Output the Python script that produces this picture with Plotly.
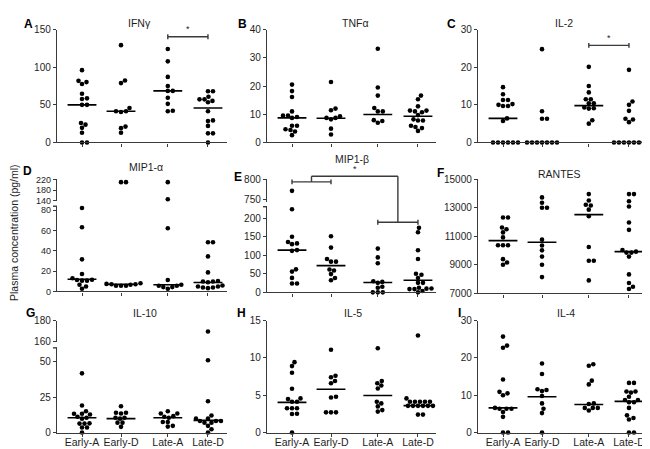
import plotly.graph_objects as go

# ---------------- data ----------------
CATEGORIES = ["Early-A", "Early-D", "Late-A", "Late-D"]

IFNG = [
    [96.1, 81.9, 80.2, 77.6, 64.7, 58.6, 57.8, 50, 50, 25.9, 23.7, 19.4, 12.9, 0, 0],
    [129.3, 82.3, 78.9, 45.7, 41.4, 41.4, 40.5, 21.1, 19, 12.9],
    [124.1, 107.8, 87.1, 75, 68.5, 68.5, 59.5, 51.3, 42.2, 41.4],
    [68.1, 68.1, 60.8, 57.3, 57.3, 55.2, 53.4, 41.4, 29.3, 28.4, 22, 12.1, 12.1, 0],
]
IFNG_MED = [50, 41.4, 68.5, 45.7]

TNFA = [
    [20.5, 18.2, 16.1, 11.0, 9.5, 9.5, 9.0, 8.7, 5.9, 5.9, 4.7, 4.4, 3.9, 2.6],
    [21.4, 12.0, 11.4, 9.3, 8.7, 8.7, 8.2, 4.9, 2.8],
    [33.2, 19.5, 16.6, 12.2, 11.0, 11.0, 7.9, 7.6, 7.0],
    [16.6, 15.3, 12.8, 11.3, 11.3, 11.0, 10.7, 9.7, 8.2, 7.8, 7.8, 5.9, 5.5, 5.1, 4.1],
]
TNFA_MED = [8.7, 8.6, 9.9, 9.3]

IL2 = [
    [14.7, 12.8, 11.3, 11.3, 10.2, 10.0, 9.7, 9.7, 6.4, 5.7, 0, 0, 0, 0, 0, 0],
    [24.8, 8.3, 6.3, 6.3, 0, 0, 0, 0, 0, 0, 0],
    [20.1, 15.0, 13.3, 11.5, 11.5, 10.4, 10.4, 9.3, 9.1, 9.0, 5.9, 5.0],
    [19.3, 10.9, 10.0, 8.4, 6.3, 6.1, 5.4, 0, 0, 0, 0, 0, 0, 0],
]
IL2_MED = [6.4, 0, 9.8, 0]

MIP1A = [
    [82.3, 63.2, 31.6, 17.1, 12.9, 11.5, 11.3, 10.6, 10.6, 6.5, 4.8, 2.6],
    [210, 210, 8.0, 7.4, 7.1, 7.0, 6.5, 5.5, 5.5, 5.5],
    [210, 146, 62.3, 11.3, 6.5, 5.5, 5.5, 4.2, 4.2, 2.6],
    [48.4, 48.4, 34.5, 18.7, 10.3, 9.7, 9.7, 9.0, 5.8, 4.8, 4.8, 3.9, 3.9, 3.2],
]
MIP1A_MED = [11.9, 7.1, 6.5, 8.7]

MIP1B = [
    [772, 224, 150, 136, 132, 130, 114, 112, 62, 56, 39, 24, 24],
    [151.5, 120.7, 89.9, 82.8, 82.8, 61.7, 59, 49.3, 38.8, 32.6],
    [118, 94.3, 78.4, 30, 28.2, 25.6, 15, 12.3, 0, 0, 0],
    [174, 162, 113.7, 90, 50.2, 47.6, 38.8, 25.6, 25.6, 12.3, 10.6, 10, 8.8, 8.8, 3.5, 0],
]
MIP1B_MED = [114, 72, 26.4, 32.6]

RANTES = [
    [12330, 12330, 11620, 11500, 11280, 10930, 10380, 10380, 10380, 9400, 9170, 9010],
    [13740, 13360, 13010, 13010, 10770, 10360, 10020, 9580, 9010, 8140],
    [13970, 13520, 13220, 13170, 12880, 12420, 10250, 9290, 9290, 7910],
    [13970, 13970, 13470, 13100, 11980, 11460, 10040, 9930, 9860, 9860, 9580, 8330, 7730, 7460, 7300],
]
RANTES_MED = [10700, 10590, 12530, 9930]

IL10 = [
    [41.9, 19.1, 15.1, 13.3, 13.3, 12.8, 11.2, 10.5, 9.8, 6.5, 6.3, 6.3, 3.5, 3.5, 0],
    [18.6, 14.0, 14.0, 13.5, 10.5, 10.5, 9.8, 7.0, 7.0, 4.0],
    [15.1, 13.5, 13.5, 11.6, 11.2, 10.5, 7.4, 7.4, 4.7, 4.2],
    [169.8, 51.2, 22.1, 12.1, 9.8, 9.8, 8.1, 8.1, 8.1, 7.0, 7.0, 4.7, 2.3, 0],
]
IL10_MED = [10.5, 9.8, 10.5, 8.6]

IL5 = [
    [9.43, 8.9, 8.0, 5.87, 4.57, 4.48, 4.13, 4.13, 3.26, 3.26, 3.26, 2.52, 2.48, 0],
    [11.1, 7.6, 7.4, 6.9, 6.6, 4.8, 4.7, 2.7, 2.7, 2.7],
    [11.3, 6.9, 6.6, 6.3, 5.9, 4.13, 3.9, 3.5, 3.0, 2.8],
    [13.0, 4.57, 4.13, 4.13, 4.13, 4.13, 4.13, 3.57, 3.57, 3.57, 3.57, 3.57, 3.57, 2.4, 2.4],
]
IL5_MED = [4.04, 5.8, 4.96, 3.6]

IL4 = [
    [25.7, 23.3, 22.7, 14.2, 10.9, 10.5, 10.0, 6.6, 6.35, 6.35, 6.35, 5.5, 4.2, 0, 0],
    [18.5, 15.7, 11.6, 11.4, 11.1, 9.8, 7.8, 6.35, 5.2, 0],
    [18.3, 17.9, 13.9, 12.9, 7.8, 7.65, 6.6, 6.6, 6.6, 5.9],
    [13.3, 13.3, 11.0, 11.0, 10.7, 9.6, 8.7, 8.7, 8.1, 8.1, 6.6, 4.6, 3.9, 3.5, 0, 0],
]
IL4_MED = [6.6, 9.6, 7.5, 8.35]

Y_TITLE = "Plasma concentration (pg/ml)"

# ---------------- layout constants ----------------
FW, FH = 650, 449
GROUP_POS = [0.0, 1.0, 2.2, 3.23]
UNIT_PX = 39.0
FIRST_PX = 25.0
COLS = [(49, 219), (259, 428), (470, 640)]
AX = "#3a3a3a"
LW = 1.4
FONT = "Arial, 'Liberation Sans', sans-serif"
TXT = "#1e1e1e"
TICK_FS = 10
DOT = 4.6        # marker diameter (px)
SPACING = 4.6    # swarm spacing (px)
MED_HALF = 0.37

PANELS = [
    dict(letter="A", title="IFNγ", data=IFNG, med=IFNG_MED, col=0, bottom=False,
         segs=[dict(range=[0, 150], px=[132, 16], ticks=[0, 50, 100, 150])],
         title_xy=(131, 9), letter_xy=(20, 10),
         brackets=[dict(g=(2, 3), v=140.5, seg=0, star=True)]),
    dict(letter="B", title="TNFα", data=TNFA, med=TNFA_MED, col=1, bottom=False,
         segs=[dict(range=[0, 40], px=[132, 16], ticks=[0, 10, 20, 30, 40])],
         title_xy=(347, 9), letter_xy=(234, 10), brackets=[]),
    dict(letter="C", title="IL-2", data=IL2, med=IL2_MED, col=2, bottom=False,
         segs=[dict(range=[0, 30], px=[132, 16], ticks=[0, 10, 20, 30])],
         title_xy=(556, 9), letter_xy=(444, 10),
         brackets=[dict(g=(2, 3), v=25.8, seg=0, star=True)]),
    dict(letter="D", title="MIP1-α", data=MIP1A, med=MIP1A_MED, col=0, bottom=False,
         tick_fs=9,
         segs=[dict(range=[0, 84], px=[285, 197.5], ticks=[0, 20, 40, 60, 80]),
               dict(range=[140, 220], px=[192, 170], ticks=[140, 180, 220])],
         title_xy=(138, 157), letter_xy=(19, 161), brackets=[]),
    dict(letter="E", title="MIP1-β", data=MIP1B, med=MIP1B_MED, col=1, bottom=False,
         segs=[dict(range=[0, 231], px=[286, 198], ticks=[0, 50, 100, 150, 200]),
               dict(range=[745, 800], px=[193, 170], ticks=[750, 800])],
         title_xy=(344, 149), letter_xy=(230, 167),
         brackets=[dict(g=(0, 1), v=794, seg=1, star=False),
                   dict(g=(2, 3), v=189, seg=0, star=False)],
         connector=dict(top=808, seg=1)),
    dict(letter="F", title="RANTES", data=RANTES, med=RANTES_MED, col=2, bottom=False,
         segs=[dict(range=[7000, 15000], px=[287, 170],
                    ticks=[7000, 9000, 11000, 13000, 15000])],
         title_xy=(551, 164), letter_xy=(432, 163), brackets=[]),
    dict(letter="G", title="IL-10", data=IL10, med=IL10_MED, col=0, bottom=True,
         segs=[dict(range=[0, 60], px=[430, 343], ticks=[0, 25, 50]),
               dict(range=[160, 180], px=[337, 315], ticks=[160, 180])],
         title_xy=(137, 307), letter_xy=(22, 307), brackets=[]),
    dict(letter="H", title="IL-5", data=IL5, med=IL5_MED, col=1, bottom=True,
         segs=[dict(range=[0, 15], px=[430, 315], ticks=[0, 5, 10, 15])],
         title_xy=(345, 307), letter_xy=(233, 307), brackets=[]),
    dict(letter="I", title="IL-4", data=IL4, med=IL4_MED, col=2, bottom=True,
         segs=[dict(range=[0, 30], px=[430, 315], ticks=[0, 10, 20, 30])],
         title_xy=(558, 307), letter_xy=(451, 307), brackets=[]),
]


def seg_index(p, v):
    segs = p["segs"]
    for i, s in enumerate(segs):
        if s["range"][0] <= v <= s["range"][1]:
            return i
    return len(segs) - 1 if v > segs[0]["range"][1] else 0


def val_py(p, v, si):
    s = p["segs"][si]
    r0, r1 = s["range"]
    p0, p1 = s["px"]
    return p0 + (v - r0) / (r1 - r0) * (p1 - p0)


def grp_px(p, g):
    return COLS[p["col"]][0] + FIRST_PX + GROUP_POS[g] * UNIT_PX


def swarm(pys):
    """Greedy beeswarm offsets (px) so dots do not overlap."""
    order = sorted(range(len(pys)), key=lambda i: -pys[i])
    placed = []
    offs = [0.0] * len(pys)
    cands = [0.0]
    for k in range(1, 200):
        cands += [k * 0.5, -k * 0.5]
    for i in order:
        y = pys[i]
        for c in cands:
            if all((c - px) ** 2 + (y - py) ** 2 >= SPACING ** 2 for px, py in placed):
                break
        placed.append((c, y))
        offs[i] = c
    return offs


fig = go.Figure()
layout = dict(width=FW, height=FH, autosize=False,
              margin=dict(l=0, r=0, t=0, b=0),
              paper_bgcolor="white", plot_bgcolor="white",
              showlegend=False, font=dict(family=FONT, size=TICK_FS, color=TXT))
shapes = []
annotations = []

ax_i = 0
for p in PANELS:
    x0px, x1px = COLS[p["col"]]
    xr = [-FIRST_PX / UNIT_PX, (x1px - x0px - FIRST_PX) / UNIT_PX]
    yfs = p.get("tick_fs", TICK_FS)
    p["axes"] = []
    for si, seg in enumerate(p["segs"]):
        ax_i += 1
        n = "" if ax_i == 1 else str(ax_i)
        low = si == 0
        layout["xaxis" + n] = dict(
            domain=[x0px / FW, x1px / FW], range=xr, anchor="y" + n,
            showline=low, linecolor=AX, linewidth=LW,
            ticks="outside" if low else "", ticklen=3, tickwidth=LW, tickcolor=AX,
            tickvals=GROUP_POS if low else [], ticktext=CATEGORIES if low else [],
            showticklabels=low and p["bottom"], showgrid=False, zeroline=False,
            ticklabelstandoff=-3,
            tickfont=dict(family=FONT, size=10.5, color=TXT), fixedrange=True)
        layout["yaxis" + n] = dict(
            domain=[1 - seg["px"][0] / FH, 1 - seg["px"][1] / FH], range=seg["range"],
            anchor="x" + n, showline=True, linecolor=AX, linewidth=LW,
            ticks="outside", ticklen=3, tickwidth=LW, tickcolor=AX,
            tickvals=seg["ticks"], ticktext=[str(t) for t in seg["ticks"]],
            showgrid=False, zeroline=False,
            tickfont=dict(family=FONT, size=yfs, color=TXT), fixedrange=True)
        p["axes"].append(("x" + n, "y" + n))

    # break cap at the top of the lower segment
    if len(p["segs"]) > 1:
        ytop = 1 - p["segs"][0]["px"][1] / FH
        shapes.append(dict(type="line", xref="paper", yref="paper",
                           x0=(x0px - 4) / FW, x1=x0px / FW, y0=ytop, y1=ytop,
                           line=dict(color=AX, width=LW)))

    # points
    xs = [[] for _ in p["segs"]]
    ys = [[] for _ in p["segs"]]
    for g, vals in enumerate(p["data"]):
        sis = [seg_index(p, v) for v in vals]
        pys = [val_py(p, v, si) for v, si in zip(vals, sis)]
        offs = swarm(pys)
        for v, si, o in zip(vals, sis, offs):
            xs[si].append(GROUP_POS[g] + o / UNIT_PX)
            ys[si].append(v)
    for si, (xa, ya) in enumerate(p["axes"]):
        if xs[si]:
            fig.add_trace(go.Scatter(x=xs[si], y=ys[si], mode="markers", xaxis=xa, yaxis=ya,
                                     marker=dict(size=DOT, color="black", line=dict(width=0)),
                                     cliponaxis=False, hoverinfo="y"))
    # medians
    mx, my = [], []
    for g, m in enumerate(p["med"]):
        mx += [GROUP_POS[g] - MED_HALF, GROUP_POS[g] + MED_HALF, None]
        my += [m, m, None]
    xa, ya = p["axes"][0]
    fig.add_trace(go.Scatter(x=mx, y=my, mode="lines", xaxis=xa, yaxis=ya,
                             line=dict(color="black", width=1.6), hoverinfo="skip"))

    # brackets
    def hline(xa_px, xb_px, y_px):
        shapes.append(dict(type="line", xref="paper", yref="paper",
                           x0=xa_px / FW, x1=xb_px / FW, y0=1 - y_px / FH, y1=1 - y_px / FH,
                           line=dict(color=AX, width=LW)))

    def vline(x_px, ya_px, yb_px):
        shapes.append(dict(type="line", xref="paper", yref="paper",
                           x0=x_px / FW, x1=x_px / FW, y0=1 - ya_px / FH, y1=1 - yb_px / FH,
                           line=dict(color=AX, width=LW)))

    mids = []
    for b in p["brackets"]:
        a_px, b_px = grp_px(p, b["g"][0]), grp_px(p, b["g"][1])
        y = val_py(p, b["v"], b["seg"])
        hline(a_px, b_px, y)
        vline(a_px, y - 2.5, y + 2.5)
        vline(b_px, y - 2.5, y + 2.5)
        mids.append(((a_px + b_px) / 2, y))
        if b["star"]:
            annotations.append(dict(text="*", xref="paper", yref="paper",
                                    x=(a_px + b_px) / 2 / FW, y=1 - (y - 0.5) / FH,
                                    xanchor="center", yanchor="bottom", showarrow=False,
                                    font=dict(family=FONT, size=9, color=TXT)))
    if "connector" in p:
        c = p["connector"]
        ytop = val_py(p, c["top"], c["seg"])
        (xa_, ya_), (xb_, yb_) = mids[0], mids[1]
        vline(xa_, ya_, ytop)
        hline(xa_, xb_, ytop)
        vline(xb_, ytop, yb_)
        annotations.append(dict(text="*", xref="paper", yref="paper",
                                x=(xa_ + xb_) / 2 / FW, y=1 - (ytop - 0.5) / FH,
                                xanchor="center", yanchor="bottom", showarrow=False,
                                font=dict(family=FONT, size=9, color=TXT)))

    # titles and letters
    tx, ty = p["title_xy"]
    annotations.append(dict(text=p["title"], xref="paper", yref="paper", x=tx / FW, y=1 - ty / FH,
                            xanchor="center", yanchor="middle", showarrow=False,
                            font=dict(family=FONT, size=10.5, color=TXT)))
    lx, ly = p["letter_xy"]
    annotations.append(dict(text="<b>%s</b>" % p["letter"], xref="paper", yref="paper",
                            x=lx / FW, y=1 - ly / FH, xanchor="center", yanchor="middle",
                            showarrow=False, font=dict(family=FONT, size=12, color="black")))

annotations.append(dict(text=Y_TITLE, xref="paper", yref="paper", x=6 / FW, y=1 - 225 / FH,
                        xanchor="center", yanchor="middle", textangle=-90, showarrow=False,
                        font=dict(family=FONT, size=10.5, color=TXT)))

layout["shapes"] = shapes
layout["annotations"] = annotations
fig.update_layout(**layout)
fig.write_html("out.html")
